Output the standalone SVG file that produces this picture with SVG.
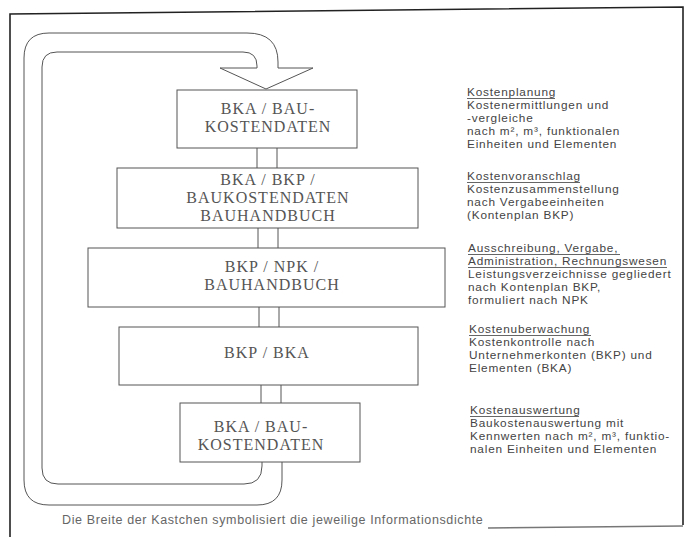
<svg xmlns="http://www.w3.org/2000/svg" width="685" height="537" viewBox="0 0 685 537">
<style>
.frame{fill:none;stroke:#222;stroke-width:1.6}
.ln{fill:none;stroke:#555;stroke-width:1}
.box{fill:#fff;stroke:#555;stroke-width:1}
.bt{font-family:"Liberation Serif","DejaVu Serif",serif;font-size:16px;fill:#555;text-anchor:middle;letter-spacing:1px}
.st{font-family:"Liberation Sans","DejaVu Sans",sans-serif;font-size:11.8px;fill:#444;letter-spacing:0.8px}
.ul{fill:none;stroke:#555;stroke-width:0.9}
.cap{font-family:"Liberation Sans","DejaVu Sans",sans-serif;font-size:12.5px;fill:#666;letter-spacing:0.62px}
</style>
<rect width="685" height="537" fill="#fff"/>
<g id="frame">
<path class="frame" d="M10,537 V14 L683,7 V525"/>
<path d="M488,528 L683,526" stroke="#777" stroke-width="1.4" fill="none"/>
</g>
<g id="connectors">
<path id="loop" class="ln" d="M282,462 V480 Q282,505 257,505 H49 Q24,505 24,480 V58 Q24,33 49,33 H247 Q278,33 278,62 V68 H313 L266,89 L220,68 H257 V66 Q257,52 243,52 H57 Q42,52 42,67 V468 Q42,484 58,484 H244 Q262,484 262,466 V462"/>
<path class="ln" d="M257,148 V168 M277,148 V168"/>
<path class="ln" d="M258,228 V248 M278,228 V248"/>
<path class="ln" d="M259,307 V327 M279,307 V327"/>
<path class="ln" d="M261,385 V403 M281,385 V403"/>
</g>
<g id="n1">
<rect class="box" x="177" y="90" width="180" height="58"/>
<text class="bt" x="268" y="114">BKA / BAU-</text>
<text class="bt" x="268" y="132">KOSTENDATEN</text>
</g>
<g id="n2">
<rect class="box" x="117" y="168" width="301" height="60"/>
<text class="bt" x="268" y="185">BKA / BKP /</text>
<text class="bt" x="268" y="203">BAUKOSTENDATEN</text>
<text class="bt" x="268" y="221">BAUHANDBUCH</text>
</g>
<g id="n3">
<rect class="box" x="88" y="248" width="357" height="59"/>
<text class="bt" x="272" y="272">BKP / NPK /</text>
<text class="bt" x="272" y="290">BAUHANDBUCH</text>
</g>
<g id="n4">
<rect class="box" x="119" y="327" width="299" height="58"/>
<text class="bt" x="267" y="358">BKP / BKA</text>
</g>
<g id="n5">
<rect class="box" x="180" y="403" width="180" height="59"/>
<text class="bt" x="261" y="432">BKA / BAU-</text>
<text class="bt" x="261" y="450">KOSTENDATEN</text>
</g>
<g id="notes">
<text class="st" x="467" y="96">Kostenplanung</text>
<path class="ul" d="M467,98.5 H555"/>
<text class="st" x="467" y="109">Kostenermittlungen und</text>
<text class="st" x="467" y="122">-vergleiche</text>
<text class="st" x="467" y="135">nach m², m³, funktionalen</text>
<text class="st" x="467" y="148">Einheiten und Elementen</text>

<text class="st" x="467" y="180">Kostenvoranschlag</text>
<path class="ul" d="M467,182.5 H580"/>
<text class="st" x="467" y="193">Kostenzusammenstellung</text>
<text class="st" x="467" y="206">nach Vergabeeinheiten</text>
<text class="st" x="467" y="219">(Kontenplan BKP)</text>

<text class="st" x="468" y="252">Ausschreibung, Vergabe,</text>
<path class="ul" d="M468,254.5 H620"/>
<text class="st" x="468" y="265">Administration, Rechnungswesen</text>
<path class="ul" d="M468,267.5 H667"/>
<text class="st" x="468" y="278">Leistungsverzeichnisse gegliedert</text>
<text class="st" x="468" y="291">nach Kontenplan BKP,</text>
<text class="st" x="468" y="304">formuliert nach NPK</text>

<text class="st" x="469" y="333">Kostenuberwachung</text>
<path class="ul" d="M469,335.5 H591"/>
<text class="st" x="469" y="346">Kostenkontrolle nach</text>
<text class="st" x="469" y="359">Unternehmerkonten (BKP) und</text>
<text class="st" x="469" y="372">Elementen (BKA)</text>

<text class="st" x="470" y="414">Kostenauswertung</text>
<path class="ul" d="M470,416.5 H579"/>
<text class="st" x="470" y="427">Baukostenauswertung mit</text>
<text class="st" x="470" y="440">Kennwerten nach m², m³, funktio-</text>
<text class="st" x="470" y="453">nalen Einheiten und Elementen</text>
</g>
<text id="caption" class="cap" x="62" y="524">Die Breite der Kastchen symbolisiert die jeweilige Informationsdichte</text>
</svg>
